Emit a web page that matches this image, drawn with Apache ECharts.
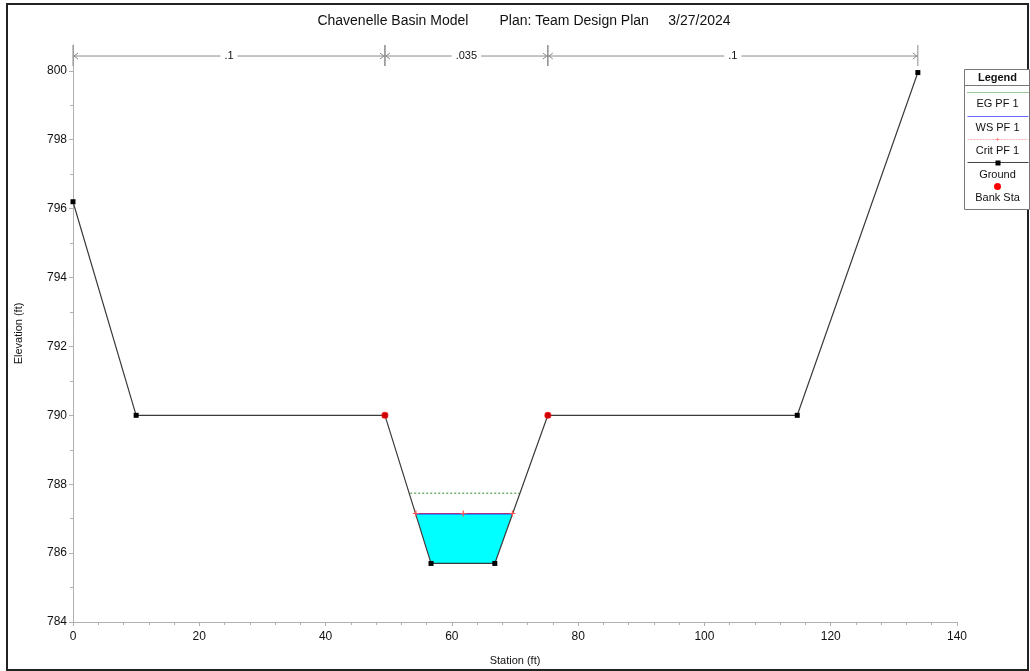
<!DOCTYPE html>
<html>
<head>
<meta charset="utf-8">
<script src="https://cdn.jsdelivr.net/npm/echarts@6/dist/echarts.min.js"></script>
<style>
  html, body { margin: 0; padding: 0; background: #fff; }
  #chart { width: 1030px; height: 671px; }
</style>
</head>
<body>
<div id="chart"></div>
<script>
// ground profile
var groundSta = [0, 10, 49.4, 56.7, 66.8, 75.2, 114.7, 133.8];
var groundElev = [796.2, 790, 790, 785.7, 785.7, 790, 790, 799.95];
// bank stations
var bankSta = [49.4, 75.2];
var bankElev = [790, 790];
// water surface / energy grade / critical
var wsSta = [54.3, 69.6];
var wsElev = 787.14;
var egSta = [53.4, 70.7];
var egElev = 787.74;
var critSta = [54.3, 61.8, 69.6];
var critElev = 787.15;
// manning's n segments
var nBreaks = [0, 49.4, 75.2, 133.8];
var nValues = ['.1', '.035', '.1'];
var nElev = 800.43;
// axis ticks
var xTicks = [0, 20, 40, 60, 80, 100, 120, 140];
var yTicks = [784, 786, 788, 790, 792, 794, 796, 798, 800];

var FONT = 'Liberation Sans, Arial, sans-serif';

function pairs(xs, ys) {
	return xs.map(function (x, i) { return [x, Array.isArray(ys) ? ys[i] : ys]; });
}

// water polygon: ws left -> channel bottom -> ws right
var waterPoly = [[wsSta[0], wsElev], [groundSta[3], groundElev[3]], [groundSta[4], groundElev[4]], [wsSta[1], wsElev]];

var myChart = echarts.init(document.getElementById('chart'));
var option = {
	animation: false,
	title: {
		text: 'Chavenelle Basin Model        Plan: Team Design Plan     3/27/2024',
		left: 519,
		textAlign: 'center',
		top: 9,
		textStyle: { fontFamily: FONT, fontSize: 14, fontWeight: 'normal', color: '#111' }
	},
	grid: { left: 73, right: 73, top: 45, bottom: 49 },
	xAxis: {
		type: 'value',
		min: xTicks[0],
		max: xTicks[xTicks.length - 1],
		interval: 20,
		name: 'Station (ft)',
		nameLocation: 'middle',
		nameGap: 33,
		nameTextStyle: { fontFamily: FONT, fontSize: 11, color: '#111' },
		axisLine: { lineStyle: { color: '#b0b0b0' } },
		axisTick: { lineStyle: { color: '#b0b0b0' }, length: 4 },
		minorTick: { show: true, splitNumber: 5, length: 3, lineStyle: { color: '#b0b0b0' } },
		axisLabel: { fontFamily: FONT, fontSize: 12, color: '#111', margin: 9 },
		splitLine: { show: false }
	},
	yAxis: {
		type: 'value',
		min: yTicks[0],
		max: 800.75,
		interval: 2,
		name: 'Elevation (ft)',
		nameLocation: 'middle',
		nameGap: 49,
		nameTextStyle: { fontFamily: FONT, fontSize: 11, color: '#111' },
		axisLine: { show: true, lineStyle: { color: '#b0b0b0' } },
		axisTick: { show: true, customValues: yTicks, lineStyle: { color: '#b0b0b0' }, length: 4 },
		minorTick: { show: true, splitNumber: 2, length: 3, lineStyle: { color: '#b0b0b0' } },
		axisLabel: { customValues: yTicks, fontFamily: FONT, fontSize: 12, color: '#111', margin: 6 },
		splitLine: { show: false }
	},
	series: [
		{
			name: 'water',
			type: 'custom',
			silent: true,
			data: [0],
			renderItem: function (params, api) {
				var pts = waterPoly.map(function (p) { return api.coord(p); });
				return { type: 'polygon', shape: { points: pts }, style: { fill: '#00ffff', stroke: null } };
			},
			z: 1
		},
		{
			name: 'Ground',
			type: 'line',
			data: pairs(groundSta, groundElev),
			symbol: 'rect',
			symbolSize: 5,
			itemStyle: { color: '#000' },
			lineStyle: { color: '#3a3a3a', width: 1.2 },
			z: 3
		},
		{
			name: 'EG PF 1',
			type: 'line',
			data: pairs(egSta, egElev),
			symbol: 'none',
			lineStyle: { color: '#2f8f2f', width: 1, type: [2, 2] },
			z: 2
		},
		{
			name: 'WS PF 1',
			type: 'line',
			data: pairs(wsSta, wsElev),
			symbol: 'none',
			lineStyle: { color: '#3333ff', width: 1.5 },
			z: 4
		},
		{
			name: 'Crit PF 1',
			type: 'line',
			data: pairs(critSta, critElev),
			symbol: 'path://M2,0H3V2H5V3H3V5H2V3H0V2H2Z',
			symbolSize: 6,
			itemStyle: { color: '#ff5050' },
			lineStyle: { color: '#ff3030', width: 1, opacity: 0.6 },
			z: 5
		},
		{
			name: 'Bank Sta',
			type: 'scatter',
			data: pairs(bankSta, bankElev),
			symbol: 'circle',
			symbolSize: 7,
			itemStyle: { color: '#ff0000' },
			z: 6
		},
		{
			name: 'nValues',
			type: 'custom',
			silent: true,
			clip: false,
			data: nValues.map(function (v, i) { return [nBreaks[i], nBreaks[i + 1], nElev]; }),
			renderItem: function (params, api) {
				var a = api.coord([api.value(0), api.value(2)]);
				var b = api.coord([api.value(1), api.value(2)]);
				var y = a[1];
				var col = '#8a8a8a';
				var st = { stroke: col, lineWidth: 1, fill: null };
				var children = [
					{ type: 'line', shape: { x1: a[0], y1: y - 11, x2: a[0], y2: y + 10 }, style: st },
					{ type: 'line', shape: { x1: b[0], y1: y - 11, x2: b[0], y2: y + 10 }, style: st },
					{ type: 'line', shape: { x1: a[0], y1: y, x2: b[0], y2: y }, style: st },
					{ type: 'polyline', shape: { points: [[a[0] + 5, y - 3], [a[0] + 1, y], [a[0] + 5, y + 3]] }, style: st },
					{ type: 'polyline', shape: { points: [[b[0] - 5, y - 3], [b[0] - 1, y], [b[0] - 5, y + 3]] }, style: st },
					{
						type: 'text',
						x: (a[0] + b[0]) / 2,
						y: y,
						style: {
							text: nValues[params.dataIndex],
							fontFamily: FONT,
							fontSize: 11,
							fill: '#111',
							align: 'center',
							verticalAlign: 'middle',
							backgroundColor: '#fff',
							padding: [1, 4]
						}
					}
				];
				return { type: 'group', children: children };
			},
			z: 7
		}
	],
	graphic: [
		{
			type: 'rect',
			shape: { x: 7, y: 4, width: 1021, height: 666 },
			style: { fill: null, stroke: '#222', lineWidth: 2 },
			silent: true
		},
		{
			type: 'group',
			left: 962,
			top: 69,
			children: [
				{ type: 'rect', shape: { x: 0, y: 0, width: 65, height: 140 }, style: { fill: '#fff', stroke: '#777', lineWidth: 1 } },
				{ type: 'text', x: 33, y: 8, style: { text: 'Legend', font: 'bold 11px ' + FONT, fill: '#111', align: 'center', verticalAlign: 'middle' } },
				{ type: 'line', shape: { x1: 0, y1: 16, x2: 65, y2: 16 }, style: { stroke: '#777', lineWidth: 1 } },
				{ type: 'line', shape: { x1: 3, y1: 23, x2: 64, y2: 23 }, style: { stroke: '#2f8f2f', lineWidth: 1, lineDash: [1, 1] } },
				{ type: 'text', x: 33, y: 34, style: { text: 'EG PF 1', font: '11px ' + FONT, fill: '#111', align: 'center', verticalAlign: 'middle' } },
				{ type: 'line', shape: { x1: 3, y1: 47, x2: 64, y2: 47 }, style: { stroke: '#6666ff', lineWidth: 1 } },
				{ type: 'text', x: 33, y: 58, style: { text: 'WS PF 1', font: '11px ' + FONT, fill: '#111', align: 'center', verticalAlign: 'middle' } },
				{ type: 'line', shape: { x1: 3, y1: 70, x2: 64, y2: 70 }, style: { stroke: '#ffb0b0', lineWidth: 1, lineDash: [2, 1] } },
				{ type: 'text', x: 33, y: 70, style: { text: '+', font: '8px ' + FONT, fill: '#ff6060', align: 'center', verticalAlign: 'middle' } },
				{ type: 'text', x: 33, y: 81, style: { text: 'Crit PF 1', font: '11px ' + FONT, fill: '#111', align: 'center', verticalAlign: 'middle' } },
				{ type: 'line', shape: { x1: 3, y1: 93, x2: 64, y2: 93 }, style: { stroke: '#444', lineWidth: 1 } },
				{ type: 'rect', shape: { x: 31, y: 91, width: 5, height: 5 }, style: { fill: '#000' } },
				{ type: 'text', x: 33, y: 105, style: { text: 'Ground', font: '11px ' + FONT, fill: '#111', align: 'center', verticalAlign: 'middle' } },
				{ type: 'circle', shape: { cx: 33, cy: 117, r: 3.5 }, style: { fill: '#ff0000' } },
				{ type: 'text', x: 33, y: 128, style: { text: 'Bank Sta', font: '11px ' + FONT, fill: '#111', align: 'center', verticalAlign: 'middle' } }
			]
		}
	]
};
myChart.setOption(option);
</script>
</body>
</html>
